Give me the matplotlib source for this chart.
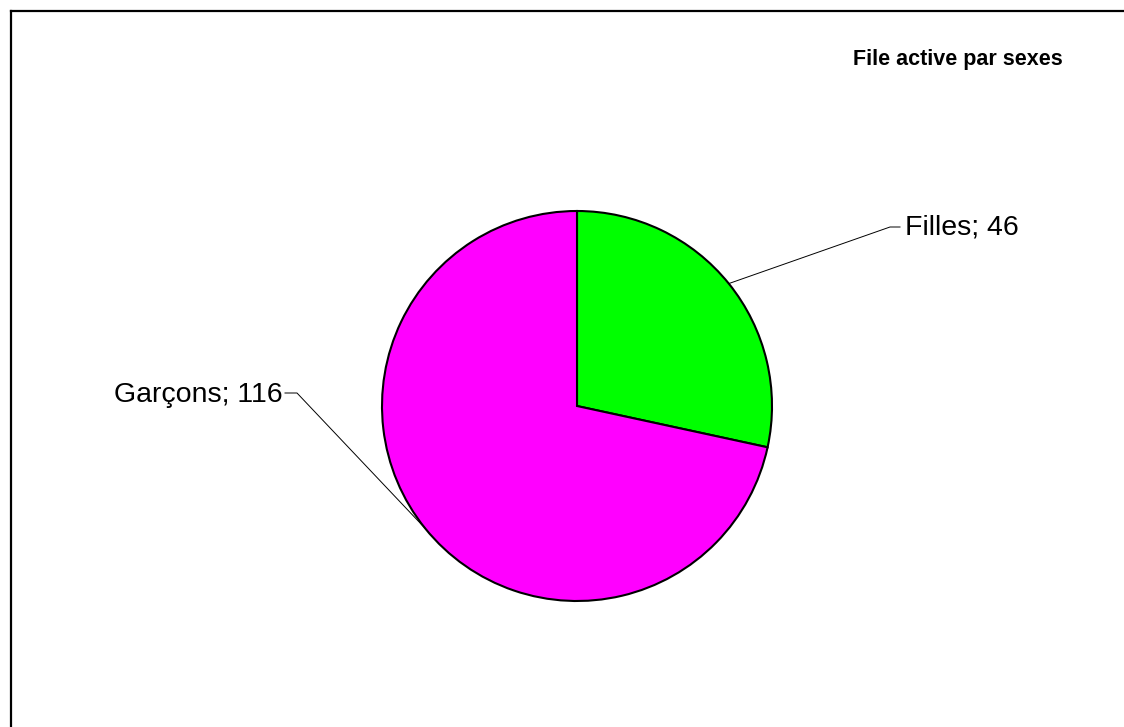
import numpy as np
import matplotlib
matplotlib.use("Agg")
import matplotlib.pyplot as plt
from matplotlib.lines import Line2D

plt.rcParams['font.family'] = ['Liberation Sans', 'DejaVu Sans']

labels = ["Filles", "Garçons"]
values = [46, 116]
colors = ["#00ff00", "#ff00ff"]
title = "File active par sexes"

W, H = 1124, 727
fig = plt.figure(figsize=(W / 100, H / 100), dpi=100)
ax = fig.add_axes([0, 0, 1, 1])

cx, cy, r = 577, H - 406, 195
wedges, _ = ax.pie(values, colors=colors, startangle=90, counterclock=False,
                   center=(cx, cy), radius=r, frame=True,
                   wedgeprops=dict(edgecolor="black", linewidth=1.5))
ax.set_xlim(0, W)
ax.set_ylim(0, H)
ax.set_aspect("equal")
ax.axis("off")

# label placement: (elbow x, line y, text x, baseline y, side)
placements = [
    (890, H - 227, 905, H - 235, "left"),
    (297, H - 393, 283, H - 402, "right"),
]
for w, lab, val, (ex, ly, tx, by, ha) in zip(wedges, labels, values, placements):
    mid = np.deg2rad((w.theta1 + w.theta2) / 2)
    px, py = cx + r * np.cos(mid), cy + r * np.sin(mid)
    end = tx + 2 if ha == "right" else tx - 5
    ax.plot([px, ex, end], [py, ly, ly], color="black", lw=0.7)
    ax.text(tx, by, f"{lab}; {val}", ha=ha, va="baseline", fontsize=20.5)

fig.text(958 / W, 1 - 59 / H, title, ha="center", va="center",
         fontsize=15.5, fontweight="bold")

# frame (top and left edges visible)
fig.add_artist(Line2D([11 / W, 1], [1 - 11 / H, 1 - 11 / H], color="black", lw=1.6,
                      transform=fig.transFigure))
fig.add_artist(Line2D([11 / W, 11 / W], [0, 1 - 11 / H], color="black", lw=1.6,
                      transform=fig.transFigure))

fig.savefig("out.png", dpi=100, facecolor="white")
